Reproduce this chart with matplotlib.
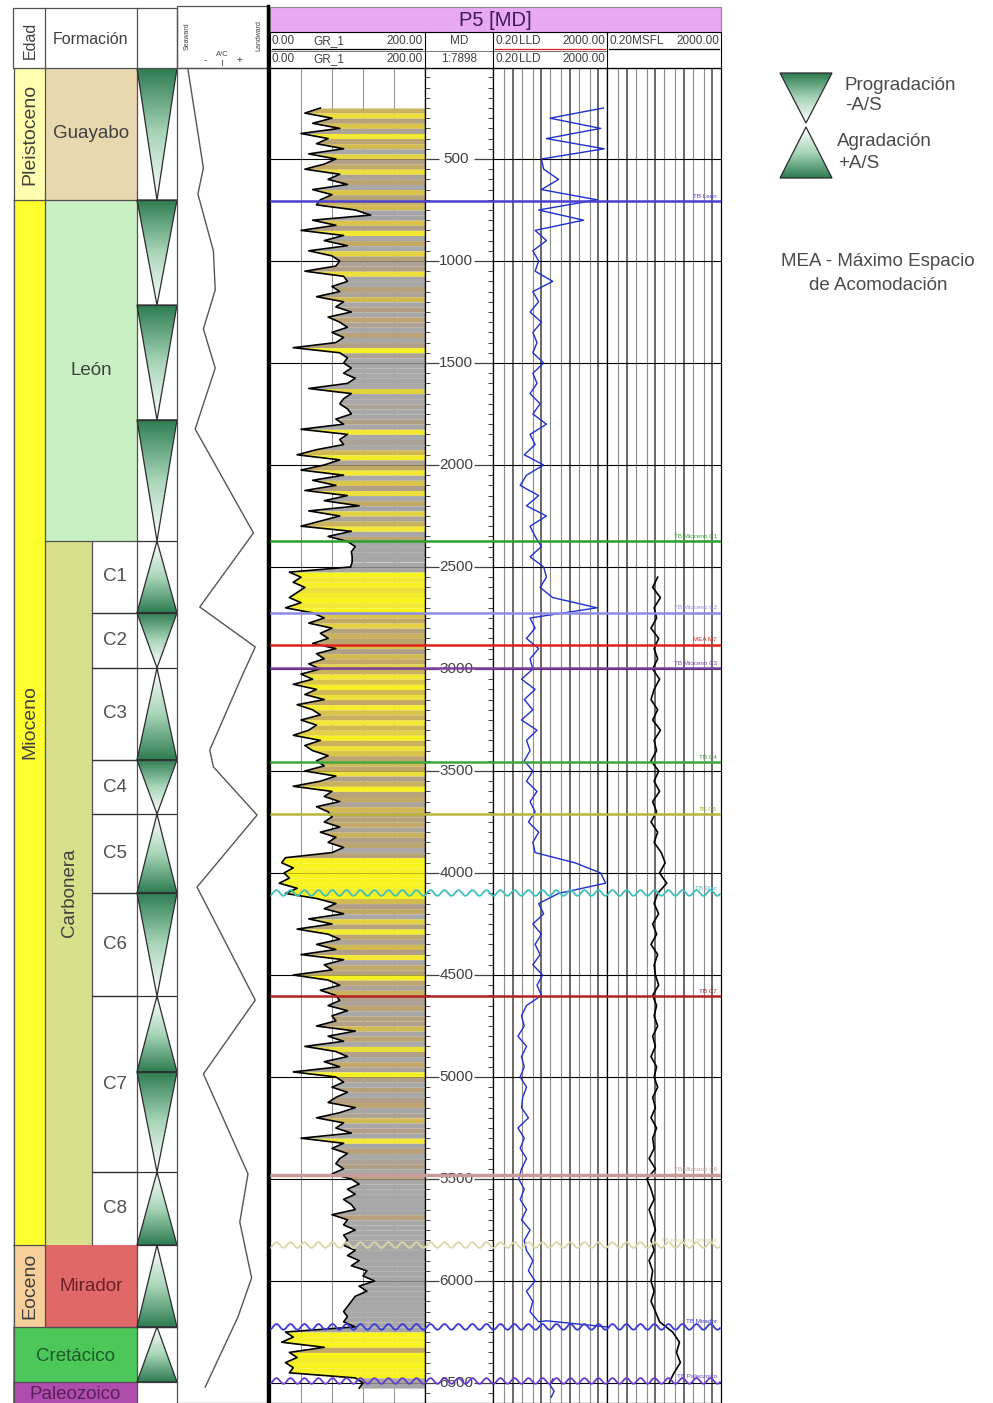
import numpy as np
import matplotlib
matplotlib.use('Agg')
import matplotlib.pyplot as plt
from matplotlib.patches import Polygon, Rectangle
from matplotlib.colors import LinearSegmentedColormap, Normalize

plt.rcParams['font.family'] = ['Liberation Sans', 'DejaVu Sans']

W, H = 993, 1403
TOP_D, BOT_D = 54, 6598   # depth (m) at top / bottom of the log area

# ---------------- stratigraphy ----------------
edad_names = ['Pleistoceno', 'Mioceno', 'Eoceno']
edad_tops = [54, 701, 5824]
edad_bases = [701, 5824, 6225]
edad_colors = ['#FFFFB0', '#FFFF30', '#F8CF9A']

form_names = ['Guayabo', 'León', 'Mirador']
form_tops = [54, 701, 5824]
form_bases = [701, 2373, 6225]
form_colors = ['#E8D8B0', '#C8F0C2', '#E06868']
form_text_colors = ['#404040', '#404040', '#6A2020']

carbonera = (2373, 5824)
member_names = ['C1', 'C2', 'C3', 'C4', 'C5', 'C6', 'C7', 'C8']
member_tops = [2373, 2725, 2995, 3446, 3711, 4098, 4603, 5466]
member_bases = [2725, 2995, 3446, 3711, 4098, 4603, 5466, 5824]

wide_names = ['Cretácico', 'Paleozoico']
wide_tops = [6225, 6495]
wide_bases = [6495, 6598]
wide_colors = ['#4CC85A', '#B04EAE']
wide_text_colors = ['#1E5A2A', '#5A1E5A']

# stacking triangles: P = progradation (wide top), A = aggradation (wide base)
tri_tops = [54, 701, 1216, 1779, 2373, 2725, 2995, 3446, 3711, 4098, 4603, 4975, 5466, 5824, 6225]
tri_bases = [701, 1216, 1779, 2373, 2725, 2995, 3446, 3711, 4098, 4603, 4975, 5466, 5824, 6225, 6495]
tri_kind = ['P', 'P', 'P', 'P', 'A', 'P', 'A', 'P', 'A', 'P', 'A', 'P', 'A', 'A', 'A']

# A/C curve (0 = seaward, 1 = landward)
ac_depth = [60, 544, 672, 951, 1142, 1333, 1525, 1824, 2333, 2696, 2892, 3039, 3397, 3480,
            3716, 4069, 4623, 4985, 5475, 5711, 5985, 6176, 6520]
ac_value = [0.12, 0.29, 0.23, 0.40, 0.42, 0.29, 0.42, 0.20, 0.84, 0.25, 0.86, 0.71, 0.36, 0.40,
            0.88, 0.22, 0.86, 0.29, 0.78, 0.69, 0.82, 0.67, 0.31]

# ---------------- logs ----------------
gr_start, gr_step = 250, 25
gr_values = [
    65, 45, 80, 55, 90, 40, 75, 60, 95, 50, 85, 70, 45, 90, 75, 100, 55, 80, 65,
    60, 110, 130, 55, 85, 40, 95, 70, 100, 50, 80, 90,
    85, 45, 95, 100, 80, 90, 60, 95, 85, 105, 75, 90, 100, 80, 95, 85, 30, 90, 100, 95,
    105, 95, 110, 100, 50, 105, 95, 90, 100, 105, 85, 95, 40, 100, 90, 95,
    60, 35, 90, 70, 40, 95, 55, 85, 45, 100, 70, 115, 50, 90, 65, 40, 105, 75,
    100, 110, 105, 106, 106, 104,
    25, 40, 30, 45, 35, 25, 40, 20,
    55, 70, 50, 80, 65, 75, 55, 85, 60, 70, 50, 65,
    40, 55, 30, 60, 45, 70, 35, 55, 65, 40, 60, 50, 30, 65, 45, 55, 75, 60,
    70, 45, 85, 65, 30, 80, 70, 90, 60, 75,
    80, 70, 90, 65, 85, 75, 95, 80,
    20, 15, 30, 18, 25, 12, 35, 20,
    60, 85, 70, 95, 50, 80, 35, 75, 90, 60, 85, 40, 95, 70, 80, 30, 75, 90, 65, 85,
    90, 75, 100, 80, 85, 60, 110, 75, 95, 45, 85, 100, 70, 90, 30, 85,
    95, 80, 100, 85, 75, 110, 90, 60, 95, 85, 105, 40, 95, 80, 100, 90, 85, 95, 80,
    105, 115, 100, 110, 95, 105, 110, 80, 100, 95, 110, 95, 100,
    95, 110, 100, 115, 105, 125, 120, 135, 115, 125, 110, 105, 100, 95, 100, 95, 110,
    20, 30, 15, 70, 25, 35, 20, 30, 25,
    110, 120, 115,
]

lld_start, lld_step = 250, 50
lld_values = [
    1500, 20, 1200, 15, 1600, 10, 12, 40, 10, 900, 8, 300, 6, 15, 5, 8,
    6, 25, 5, 8, 4, 10, 5, 7, 5, 12,
    5, 7, 4, 9, 5, 15, 4, 6,
    2.5, 12, 3, 1.8, 8, 3, 15, 4, 6,
    10, 4, 12,
    15, 9, 25, 900,
    4, 6, 3, 8, 4, 5,
    2, 6, 2.5, 5, 2, 7, 3, 4, 2.5,
    5, 3, 7, 4, 6, 3.5, 8, 5, 6,
    150, 1200, 1800, 40,
    8, 12, 5, 10, 6, 9, 5, 11, 7, 10,
    3, 2, 2.5, 1.5, 3, 2, 2.5, 1.8, 3, 2.2, 2, 3.5, 1.5, 2.5, 1.8, 3, 2,
    1.6, 2.5, 1.8, 3, 2, 4, 2.5,
    3, 5, 3.5, 6, 3, 5, 4, 8,
]
lld_tail_depth = [6195, 6225]
lld_tail = [15, 1900]
lld_bottom_depth = [6480, 6510, 6540, 6570]
lld_bottom = [25, 20, 28, 22]

msfl_start, msfl_step = 2550, 50
msfl_values = [
    12, 8, 15, 9, 11, 7, 13, 9, 12, 8,
    14, 9, 7, 12, 8, 15, 9, 11, 7, 13,
    9, 14, 8, 11, 7, 12, 9, 16, 22, 14,
    25, 12, 9, 13, 8, 11, 7, 12, 9, 10,
    13, 8, 11, 9, 12, 8, 10, 7, 11, 9,
    12, 8, 10, 7, 11, 8, 9, 6, 10, 5,
    7, 9, 6, 8, 10, 7, 9, 6, 8, 7,
    9, 7, 10, 14, 40, 70, 55, 75, 45, 30,
]

# formation tops
top_names = ['TB León', 'TB Mioceno C1', 'TB Mioceno C2', 'MEA M7', 'TB Mioceno C3', 'TB C4',
             'TB-C5', 'TB Disc', 'TB C7', 'TB Mioceno C8', 'TB Mioceno Mirador', 'TB Mirador',
             'TB Paleozoico']
top_depths = [706, 2373, 2725, 2882, 2995, 3456, 3711, 4098, 4603, 5480, 5824, 6225, 6490]
top_colors = ['#4B3FD0', '#2CA02C', '#8C8CE8', '#E0201C', '#7B3F9E', '#3BA83B', '#B8B43A',
              '#3FBFBF', '#B22222', '#C89A9A', '#D8D8A8', '#3A3AD8', '#6A3AC8']
top_wavy = [False, False, False, False, False, False, False, True, False, False, True, True, True]

depth_labels = [500, 1000, 1500, 2000, 2500, 3000, 3500, 4000, 4500, 5000, 5500, 6000, 6500]
res_minor = [0.5, 2, 5, 20, 50, 200, 500]
res_major = [1, 10, 100, 1000]

# ---------------- figure ----------------
fig = plt.figure(figsize=(W / 100, H / 100), dpi=100)
LINE = '#505050'


def add_box(x0, x1, y0=68, y1=H):
    ax = fig.add_axes([x0 / W, 1 - y1 / H, (x1 - x0) / W, (y1 - y0) / H])
    ax.set_xticks([])
    ax.set_yticks([])
    return ax


green_cmap = LinearSegmentedColormap.from_list('tri', ['#FFFFFF', '#A8D6B8', '#2E7C52'])
grad = np.linspace(0, 1, 100).reshape(-1, 1)


def gradient_triangle(ax, x0, x1, top, base, wide_at_top):
    xm = (x0 + x1) / 2
    if wide_at_top:
        pts = [(x0, top), (x1, top), (xm, base)]
        img = grad[::-1]
    else:
        pts = [(xm, top), (x1, base), (x0, base)]
        img = grad
    poly = Polygon(pts, closed=True, fc='none', ec='#2b2b2b', lw=0.9, zorder=3)
    ax.add_patch(poly)
    im = ax.imshow(img, extent=(x0, x1, base, top), origin='upper', cmap=green_cmap,
                   vmin=0, vmax=1, aspect='auto', zorder=2, interpolation='bilinear')
    im.set_clip_path(poly)


# ---- stratigraphic table ----
ax_s = add_box(13, 177)
ax_s.axis('off')
for n, t, b, c in zip(edad_names, edad_tops, edad_bases, edad_colors):
    ax_s.fill_between([13, 45], t, b, color=c, lw=0)
    ax_s.text(30, (t + b) / 2, n, rotation=90, ha='center', va='center', fontsize=14, color='#404040')
for n, t, b, c, tc in zip(form_names, form_tops, form_bases, form_colors, form_text_colors):
    ax_s.fill_between([45, 137], t, b, color=c, lw=0)
ax_s.fill_between([45, 92], carbonera[0], carbonera[1], color='#D8E08C', lw=0)
for n, t, b, c in zip(wide_names, wide_tops, wide_bases, wide_colors):
    ax_s.fill_between([13, 137], t, b, color=c, lw=0)

for n, t, b, tc in zip(form_names, form_tops, form_bases, form_text_colors):
    ax_s.text(91, (t + b) / 2, n, ha='center', va='center', fontsize=13.5, color=tc)
ax_s.text(69, sum(carbonera) / 2, 'Carbonera', rotation=90, ha='center', va='center',
          fontsize=13.5, color='#404040')
for n, t, b in zip(member_names, member_tops, member_bases):
    ax_s.text(115, (t + b) / 2, n, ha='center', va='center', fontsize=13.5, color='#505050')
for n, t, b, tc in zip(wide_names, wide_tops, wide_bases, wide_text_colors):
    ax_s.text(75, (t + b) / 2 + 8, n, ha='center', va='center', fontsize=13.5, color=tc)

for t, b, k in zip(tri_tops, tri_bases, tri_kind):
    gradient_triangle(ax_s, 137, 177, t, b, k == 'P')
ax_s.hlines(tri_tops[1:], 137, 177, color='#303030', lw=0.9, zorder=4)

# table borders
ax_s.vlines([13.5], TOP_D, BOT_D, color=LINE, lw=0.9)
ax_s.vlines([45], TOP_D, wide_tops[0], color=LINE, lw=0.9)
ax_s.vlines([137], TOP_D, BOT_D, color=LINE, lw=0.9)
ax_s.vlines([92], carbonera[0], carbonera[1], color=LINE, lw=0.9)
ax_s.hlines(edad_bases[:-1], 13, 45, color=LINE, lw=0.9)
ax_s.hlines(form_bases, 45, 137, color=LINE, lw=0.9)
ax_s.hlines(wide_tops, 13, 177, color=LINE, lw=0.9)
ax_s.hlines(member_tops[1:], 92, 137, color='#303030', lw=1.0)
ax_s.set_xlim(13, 177)
ax_s.set_ylim(BOT_D, TOP_D)

# ---- A/C curve ----
ax_ac = add_box(177, 268)
ax_ac.plot(ac_value, ac_depth, color='#555555', lw=1.0)
ax_ac.set_xlim(0, 1)
ax_ac.set_ylim(BOT_D, TOP_D)
for s in ax_ac.spines.values():
    s.set_color(LINE)
    s.set_linewidth(0.9)

# ---- GR track ----
ax_gr = add_box(270, 425)
gr_depth = gr_start + gr_step * np.arange(len(gr_values))
gr = np.array(gr_values, dtype=float)
gr_cmap = LinearSegmentedColormap.from_list(
    'gr', [(0.0, '#F7F31C'), (0.2, '#F2E838'), (0.38, '#D6BE4C'), (0.55, '#BFA66A'),
           (0.72, '#B0A08A'), (0.83, '#A9A9A9'), (1.0, '#A6A6A6')])
gr_norm = Normalize(25, 110)
ax_gr.vlines([40, 80, 120, 160], TOP_D, BOT_D, color='#8C8C8C', lw=0.7, zorder=0)
ax_gr.hlines(depth_labels, 0, 200, color='black', lw=0.8, zorder=0)
for i in range(len(gr) - 1):
    ax_gr.fill_betweenx(gr_depth[i:i + 2], gr[i:i + 2], 200, color=gr_cmap(gr_norm(gr[i])),
                        lw=0, zorder=1)
ax_gr.plot(gr, gr_depth, color='black', lw=1.2, zorder=2)
ax_gr.set_xlim(0, 200)
ax_gr.set_ylim(BOT_D, TOP_D)

# ---- depth track ----
ax_d = add_box(425, 493)
ax_d.set_xlim(0, 1)
ticks = np.arange(100, BOT_D, 50)
ax_d.hlines(ticks, 0, 0.07, color='#404040', lw=0.7)
ax_d.hlines(ticks, 0.93, 1, color='#404040', lw=0.7)
ax_d.hlines(depth_labels, 0, 0.2, color='#404040', lw=0.9)
ax_d.hlines(depth_labels, 0.72, 1, color='#404040', lw=0.9)
for d in depth_labels:
    ax_d.text(0.46, d, str(d), ha='center', va='center', fontsize=11, color='#404040')
ax_d.set_ylim(BOT_D, TOP_D)


# ---- resistivity tracks ----
def res_track(x0, x1):
    ax = add_box(x0, x1)
    ax.set_xscale('log')
    ax.vlines(res_minor, TOP_D, BOT_D, color='#8C8C8C', lw=0.8, zorder=0)
    ax.vlines(res_major, TOP_D, BOT_D, color='#404040', lw=1.1, zorder=0)
    ax.hlines(depth_labels, 0.2, 2000, color='black', lw=0.8, zorder=0)
    ax.set_xlim(0.2, 2000)
    ax.set_ylim(BOT_D, TOP_D)
    ax.set_xticks([])
    ax.set_xticks([], minor=True)
    return ax


ax_lld = res_track(493, 607)
lld_depth = lld_start + lld_step * np.arange(len(lld_values))
ax_lld.plot(list(lld_values) + lld_tail, list(lld_depth) + lld_tail_depth, color='#1F2FD0', lw=1.0)
ax_lld.plot(lld_bottom, lld_bottom_depth, color='#1F2FD0', lw=1.0)

ax_ms = res_track(607, 721)
msfl_depth = msfl_start + msfl_step * np.arange(len(msfl_values))
ax_ms.plot(msfl_values, msfl_depth, color='black', lw=1.2)

for ax in (ax_gr, ax_d, ax_lld, ax_ms):
    for s in ax.spines.values():
        s.set_color('black')
        s.set_linewidth(0.9)

# ---- formation tops across the log tracks ----
ax_t = add_box(268, 721)
ax_t.axis('off')
ax_t.patch.set_alpha(0)
xs = np.arange(270, 721, 1.0)
for n, d, c, wv in zip(top_names, top_depths, top_colors, top_wavy):
    if wv:
        ax_t.plot(xs, d + 14 * np.sin(2 * np.pi * xs / 14.0), color=c, lw=1.3)
    else:
        ax_t.plot([268, 721], [d, d], color=c, lw=1.8 if n != 'TB Mioceno C8' else 2.5)
    ax_t.text(717, d - 12, n, ha='right', va='bottom', fontsize=4.5, color=c)
ax_t.set_xlim(268, 721)
ax_t.set_ylim(BOT_D, TOP_D)

# ---------------- overlay: headers and legend ----------------
ov = fig.add_axes([0, 0, 1, 1])
ov.set_xlim(0, W)
ov.set_ylim(H, 0)
ov.axis('off')
ov.patch.set_alpha(0)

# left table header
ov.add_patch(Rectangle((13, 8), 164, 60, fill=False, ec=LINE, lw=0.9))
ov.plot([45, 45], [8, 68], color=LINE, lw=0.9)
ov.plot([137, 137], [8, 68], color=LINE, lw=0.9)
ov.text(30, 40, 'Edad', rotation=90, ha='center', va='center', fontsize=11.5, color='#404040')
ov.text(91, 39, 'Formación', ha='center', va='center', fontsize=11.5, color='#404040')

# A/C header
ov.add_patch(Rectangle((177, 6), 91, 62, fill=False, ec=LINE, lw=0.9))
ov.text(187, 36, 'Seaward', rotation=90, ha='center', va='center', fontsize=5, color='#404040')
ov.text(259, 36, 'Landward', rotation=90, ha='center', va='center', fontsize=5, color='#404040')
ov.text(222, 54, 'A/C', ha='center', va='center', fontsize=5.5, color='#404040')
ov.text(205, 60, '-', ha='center', va='center', fontsize=7, color='#404040')
ov.text(239, 60, '+', ha='center', va='center', fontsize=7, color='#404040')
ov.plot([222, 222], [60, 65], color='#404040', lw=0.6)

# log header
ov.add_patch(Rectangle((270, 7), 451, 25, fc='#E9A8F4', ec='#8A8A8A', lw=0.8))
ov.text(495, 20, 'P5 [MD]', ha='center', va='center', fontsize=14.5, color='#3D1A5C')
ov.add_patch(Rectangle((270, 32), 451, 36, fill=False, ec='black', lw=0.8))
ov.plot([270, 607], [51, 51], color='#606060', lw=0.6)
for xv in (425, 493, 607):
    ov.plot([xv, xv], [32, 68], color='black', lw=0.8)
hdr = dict(fontsize=8.5, color='#404040', va='center')
for yv in (41, 59):
    ov.text(272, yv, '0.00', ha='left', **hdr)
    ov.text(329, yv, 'GR_1', ha='center', **hdr)
    ov.text(423, yv, '200.00', ha='right', **hdr)
    ov.text(495, yv, '0.20', ha='left', **hdr)
    ov.text(530, yv, 'LLD', ha='center', **hdr)
    ov.text(605, yv, '2000.00', ha='right', **hdr)
ov.text(459, 41, 'MD', ha='center', **hdr)
ov.text(459, 59, '1:7898', ha='center', **hdr)
ov.text(609, 41, '0.20', ha='left', **hdr)
ov.text(648, 41, 'MSFL', ha='center', **hdr)
ov.text(719, 41, '2000.00', ha='right', **hdr)
ov.plot([272, 422], [49, 49], color='black', lw=0.9)
ov.plot([495, 605], [49, 49], color='#E02020', lw=0.9)
ov.plot([609, 719], [49, 49], color='black', lw=0.9)

# thick left border of the log tracks
ov.plot([268, 268], [6, H], color='black', lw=2.5)

# legend
gradient_triangle(ov, 780, 832, 73, 123, True)
gradient_triangle(ov, 780, 832, 127, 178, False)
leg = dict(fontsize=13.5, color='#4A4A4A', va='center')
ov.text(845, 86, 'Progradación', ha='left', **leg)
ov.text(845, 106, '-A/S', ha='left', **leg)
ov.text(837, 142, 'Agradación', ha='left', **leg)
ov.text(838, 163, '+A/S', ha='left', **leg)
ov.text(878, 262, 'MEA - Máximo Espacio', ha='center', **leg)
ov.text(878, 285, 'de Acomodación', ha='center', **leg)
ov.set_xlim(0, W)
ov.set_ylim(H, 0)

fig.savefig('out.png', dpi=100)
